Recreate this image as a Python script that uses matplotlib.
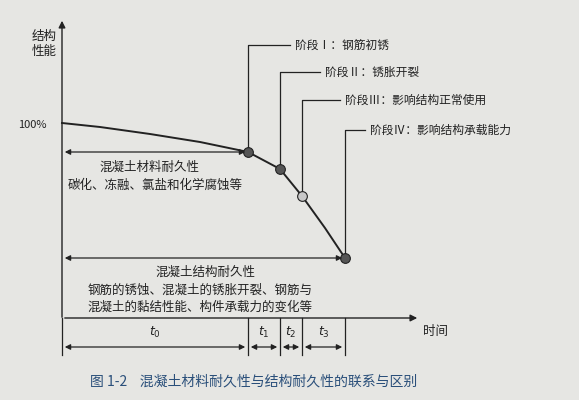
import numpy as np
import matplotlib.pyplot as plt

plt.rcParams['font.family'] = ['Noto Sans CJK SC', 'DejaVu Sans']

# curve (pixel coords)
curve_x = [62, 100, 150, 200, 248, 280, 302, 325, 345]
curve_y = [123, 127, 134, 142, 152, 169, 196, 228, 258]
stage_x = [248, 280, 302, 345]
stage_y = [152, 169, 196, 258]
stage_top = [45, 72, 100, 130]
stage_end = [290, 320, 340, 365]
stage_labels = ['阶段Ⅰ：钢筋初锈', '阶段Ⅱ：锈胀开裂', '阶段Ⅲ：影响结构正常使用', '阶段Ⅳ：影响结构承载能力']
stage_colors = ['#555555', '#555555', '#c8c8c8', '#555555']
t_bounds = [62, 248, 280, 302, 345]
t_labels = ['$t_0$', '$t_1$', '$t_2$', '$t_3$']

fig = plt.figure(figsize=(5.79, 4), dpi=100)
fig.patch.set_facecolor('#e6e6e3')
ax = fig.add_axes([0, 0, 1, 1])
ax.set_xlim(0, 579)
ax.set_ylim(400, 0)
ax.axis('off')
ink = '#222222'

# axes
ax.annotate('', xy=(62, 18), xytext=(62, 320), arrowprops=dict(arrowstyle='-|>', color=ink, lw=1))
ax.annotate('', xy=(420, 318), xytext=(62, 318), arrowprops=dict(arrowstyle='-|>', color=ink, lw=1))
ax.text(44, 30, '结构\n性能', fontsize=9, ha='center', va='top', color=ink, linespacing=1.2)
ax.text(32, 125, '100%', fontsize=8, ha='center', va='center', color=ink)
ax.text(435, 332, '时间', fontsize=9, ha='center', va='center', color=ink)

ax.plot(curve_x, curve_y, color=ink, lw=1.4)

for x, y, top, end, lab, c in zip(stage_x, stage_y, stage_top, stage_end, stage_labels, stage_colors):
    ax.plot([x, x, end], [y, top, top], color=ink, lw=0.9)
    ax.plot(x, y, 'o', ms=7, mfc=c, mec=ink, mew=0.8)
    ax.text(end + 5, top, lab, fontsize=8.5, va='center', color=ink)

# double arrows
arr = dict(arrowstyle='<|-|>', color=ink, lw=0.9, mutation_scale=8)
ax.annotate('', xy=(62, 152), xytext=(248, 152), arrowprops=arr)
ax.text(150, 167, '混凝土材料耐久性', fontsize=9, ha='center', va='center', color=ink)
ax.text(155, 185, '碳化、冻融、氯盐和化学腐蚀等', fontsize=9, ha='center', va='center', color=ink)
ax.annotate('', xy=(62, 258), xytext=(345, 258), arrowprops=arr)
ax.text(205, 272, '混凝土结构耐久性', fontsize=9, ha='center', va='center', color=ink)
ax.text(200, 290, '钢筋的锈蚀、混凝土的锈胀开裂、钢筋与', fontsize=9, ha='center', va='center', color=ink)
ax.text(200, 307, '混凝土的黏结性能、构件承载力的变化等', fontsize=9, ha='center', va='center', color=ink)

# timeline
for x in t_bounds:
    ax.plot([x, x], [318, 355], color=ink, lw=0.9)
for i, lab in enumerate(t_labels):
    a, b = t_bounds[i], t_bounds[i + 1]
    ax.annotate('', xy=(a, 347), xytext=(b, 347), arrowprops=arr)
    ax.text((a + b) / 2, 332, lab, fontsize=9, ha='center', va='center', color=ink)

ax.text(90, 381, '图 1-2    混凝土材料耐久性与结构耐久性的联系与区别', fontsize=10,
        ha='left', va='center', color='#2a4f7a')

fig.savefig('out.png', dpi=100, facecolor=fig.get_facecolor())
